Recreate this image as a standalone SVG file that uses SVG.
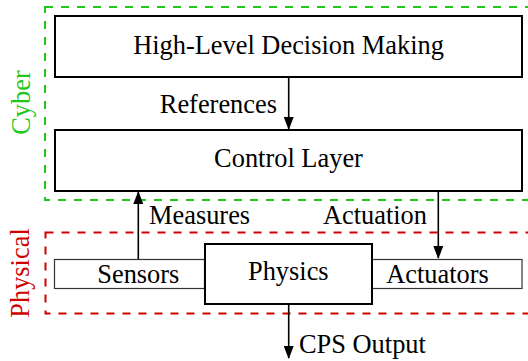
<svg xmlns="http://www.w3.org/2000/svg" width="528" height="361" viewBox="0 0 528 361">
<style>
text{font-family:'Liberation Serif','Times New Roman','DejaVu Serif',serif;font-size:26.4px;fill:#000}
.box{fill:#fff;stroke:#000;stroke-width:2}
.thin{fill:#fff;stroke:#333;stroke-width:1.2}
.cyber{fill:none;stroke:#1ec81e;stroke-width:2;stroke-dasharray:8 8}
.phys{fill:none;stroke:#d00000;stroke-width:2;stroke-dasharray:8 8}
.arr{stroke:#000;stroke-width:1.6;fill:none;marker-end:url(#ah)}
</style>
<defs>
<marker id="ah" markerUnits="userSpaceOnUse" markerWidth="13" markerHeight="10" refX="12" refY="5" orient="auto">
<path d="M0,0 L13,5 L0,10 Z" fill="#000"/>
</marker>
</defs>
<g id="cyber-region">
<rect class="cyber" x="45" y="7" width="490" height="193"/>
<text x="29.5" y="102.5" text-anchor="middle" transform="rotate(-90 29.5 102.5)" style="fill:#1ec81e">Cyber</text>
</g>
<g id="physical-region">
<rect class="phys" x="45.5" y="232.5" width="490" height="81"/>
<text x="29" y="273" text-anchor="middle" transform="rotate(-90 29 273)" style="fill:#d00000">Physical</text>
</g>
<g id="high-level">
<rect class="box" x="55" y="16" width="467" height="61"/>
<text x="288.5" y="53.5" text-anchor="middle">High-Level Decision Making</text>
</g>
<g id="control-layer">
<rect class="box" x="55" y="130" width="467" height="61"/>
<text x="288.5" y="167" text-anchor="middle">Control Layer</text>
</g>
<g id="sensors">
<rect class="thin" x="54.5" y="259.5" width="150" height="29"/>
<text x="138.3" y="283" text-anchor="middle">Sensors</text>
</g>
<g id="actuators">
<rect class="thin" x="372" y="259.5" width="150" height="29"/>
<text x="437.5" y="283" text-anchor="middle">Actuators</text>
</g>
<g id="physics">
<rect class="box" x="205" y="244" width="167" height="60"/>
<text x="288.3" y="280" text-anchor="middle">Physics</text>
</g>
<g id="connectors">
<line class="arr" x1="288.7" y1="77" x2="288.7" y2="129"/>
<text x="277" y="113" text-anchor="end">References</text>
<line class="arr" x1="138.3" y1="259" x2="138.3" y2="192"/>
<text x="149" y="224">Measures</text>
<line class="arr" x1="438.3" y1="191" x2="438.3" y2="258"/>
<text x="427" y="224" text-anchor="end">Actuation</text>
<line class="arr" x1="288.7" y1="304" x2="288.7" y2="358"/>
<text x="299" y="353">CPS Output</text>
</g>
</svg>
